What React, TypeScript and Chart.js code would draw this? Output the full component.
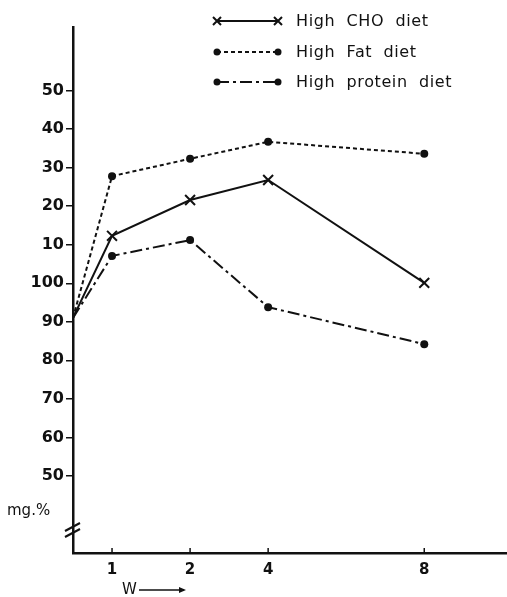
import React, { useEffect, useRef } from 'react';
import { Chart, registerables } from 'chart.js';

Chart.register(...registerables);

// Week labels and the (irregular) axis positions used in the original figure
const weekLabels = ['1', '2', '4', '8'];
const weekPositions = [1, 2, 3, 5];
const startPosition = 0.5;
const startValue = 91;

const choValues = [112.3, 121.6, 126.8, 100.1];
const fatValues = [127.8, 132.3, 136.7, 133.6];
const proteinValues = [107.1, 111.2, 93.8, 84.2];

const yTickValues = [50, 60, 70, 80, 90, 100, 110, 120, 130, 140, 150];
const yTickLabels = ['50', '60', '70', '80', '90', '100', '10', '20', '30', '40', '50'];

const seriesNames = ['High  CHO  diet', 'High  Fat  diet', 'High  protein  diet'];

const INK = '#111';
const FONT = 'DejaVu Sans';

function series(values: number[]) {
  return [{ x: startPosition, y: startValue }, ...weekPositions.map((x, i) => ({ x, y: values[i] }))];
}

function drawMarker(ctx: CanvasRenderingContext2D, style: string, x: number, y: number, r: number) {
  ctx.save();
  ctx.setLineDash([]);
  if (style === 'crossRot') {
    ctx.lineWidth = 2;
    ctx.beginPath();
    ctx.moveTo(x - r, y - r);
    ctx.lineTo(x + r, y + r);
    ctx.moveTo(x - r, y + r);
    ctx.lineTo(x + r, y - r);
    ctx.stroke();
  } else {
    ctx.beginPath();
    ctx.arc(x, y, r, 0, Math.PI * 2);
    ctx.fill();
  }
  ctx.restore();
}

const decorPlugin = {
  id: 'decor',
  afterDraw(chart: any) {
    const ctx: CanvasRenderingContext2D = chart.ctx;
    const xs = chart.scales.x;
    const area = chart.chartArea;
    ctx.save();
    ctx.strokeStyle = INK;
    ctx.fillStyle = INK;

    // inward x tick marks
    ctx.lineWidth = 1.5;
    weekPositions.forEach((p) => {
      const px = xs.getPixelForValue(p);
      ctx.beginPath();
      ctx.moveTo(px, area.bottom);
      ctx.lineTo(px, area.bottom - 5);
      ctx.stroke();
    });

    // axis break
    ctx.lineWidth = 2;
    const bx = area.left;
    const by = area.bottom - 23;
    [-3, 3].forEach((d) => {
      ctx.beginPath();
      ctx.moveTo(bx - 8, by + d + 4);
      ctx.lineTo(bx + 7, by + d - 4);
      ctx.stroke();
    });

    // unit label
    ctx.font = `15px ${FONT}`;
    ctx.textAlign = 'left';
    ctx.textBaseline = 'middle';
    ctx.fillText('mg.%', 7, 511);

    // W arrow
    ctx.fillText('W', 122, 590);
    ctx.lineWidth = 1.5;
    ctx.beginPath();
    ctx.moveTo(139, 590);
    ctx.lineTo(184, 590);
    ctx.stroke();
    ctx.beginPath();
    ctx.moveTo(186, 590);
    ctx.lineTo(179, 587);
    ctx.lineTo(179, 593);
    ctx.closePath();
    ctx.fill();

    // legend
    const rows = [21, 52, 82];
    chart.data.datasets.forEach((ds: any, i: number) => {
      const y = rows[i];
      ctx.save();
      ctx.lineWidth = 2;
      ctx.setLineDash(ds.borderDash || []);
      ctx.beginPath();
      ctx.moveTo(217, y);
      ctx.lineTo(278, y);
      ctx.stroke();
      ctx.restore();
      drawMarker(ctx, ds.pointStyle, 217, y, ds.pointStyle === 'crossRot' ? 4 : 3.5);
      drawMarker(ctx, ds.pointStyle, 278, y, ds.pointStyle === 'crossRot' ? 4 : 3.5);
      ctx.font = `16px ${FONT}`;
      ctx.textAlign = 'left';
      ctx.textBaseline = 'middle';
      (ctx as any).letterSpacing = '0.6px';
      ctx.fillText(seriesNames[i], 296, y + 1);
      (ctx as any).letterSpacing = '0px';
    });
    ctx.restore();
  },
};

export default function App() {
  const ref = useRef<HTMLCanvasElement | null>(null);

  useEffect(() => {
    if (!ref.current) return;
    const common = {
      borderColor: INK,
      backgroundColor: INK,
      pointBackgroundColor: INK,
      pointBorderColor: INK,
      borderWidth: 2,
      tension: 0,
      fill: false,
    };
    const chart = new Chart(ref.current, {
      type: 'line',
      data: {
        datasets: [
          {
            ...common,
            label: seriesNames[0],
            data: series(choValues),
            pointStyle: 'crossRot',
            pointRadius: [0, 7, 7, 7, 7],
            pointBorderWidth: 2,
          },
          {
            ...common,
            label: seriesNames[1],
            data: series(fatValues),
            borderDash: [4, 3],
            pointStyle: 'circle',
            pointRadius: [0, 4, 4, 4, 4],
            pointBorderWidth: 0,
          },
          {
            ...common,
            label: seriesNames[2],
            data: series(proteinValues),
            borderDash: [12, 4, 3, 4],
            pointStyle: 'circle',
            pointRadius: [0, 4, 4, 4, 4],
            pointBorderWidth: 0,
          },
        ],
      } as any,
      plugins: [decorPlugin],
      options: {
        responsive: false,
        animation: false,
        devicePixelRatio: 1,
        layout: { autoPadding: false, padding: { top: 27, right: 0, left: 0, bottom: 0 } },
        plugins: { legend: { display: false }, tooltip: { enabled: false } },
        scales: {
          x: {
            type: 'linear',
            min: 0.5,
            max: 6.06,
            afterBuildTicks: (s: any) => {
              s.ticks = weekPositions.map((v) => ({ value: v }));
            },
            afterFit: (s: any) => {
              s.height = 44;
              s.paddingLeft = 0;
              s.paddingRight = 0;
            },
            ticks: {
              color: INK,
              padding: 8,
              font: { family: FONT, size: 15, weight: 'bold' },
              callback: (v: any) => {
                const i = weekPositions.indexOf(Number(v));
                return i >= 0 ? weekLabels[i] : '';
              },
            },
            grid: { display: true, drawOnChartArea: false, drawTicks: false, color: INK },
            border: { display: true, color: INK, width: 2.5 },
          },
          y: {
            type: 'linear',
            min: 30,
            max: 166.5,
            afterBuildTicks: (s: any) => {
              s.ticks = yTickValues.map((v) => ({ value: v }));
            },
            afterFit: (s: any) => {
              s.width = 73;
              s.paddingTop = 0;
              s.paddingBottom = 0;
            },
            ticks: {
              color: INK,
              padding: 2,
              font: { family: FONT, size: 16, weight: 'bold' },
              callback: (v: any) => {
                const i = yTickValues.indexOf(Number(v));
                return i >= 0 ? yTickLabels[i] : '';
              },
            },
            grid: { display: true, drawOnChartArea: false, drawTicks: true, tickLength: 7, color: INK, lineWidth: 1.5 },
            border: { display: true, color: INK, width: 2.5 },
          },
        },
      } as any,
    });
    return () => chart.destroy();
  }, []);

  return (
    <div style={{ position: 'fixed', left: 0, top: 0, width: 507, height: 597, background: '#fff' }}>
      <canvas ref={ref} width={507} height={597} style={{ width: 507, height: 597 }} />
    </div>
  );
}
